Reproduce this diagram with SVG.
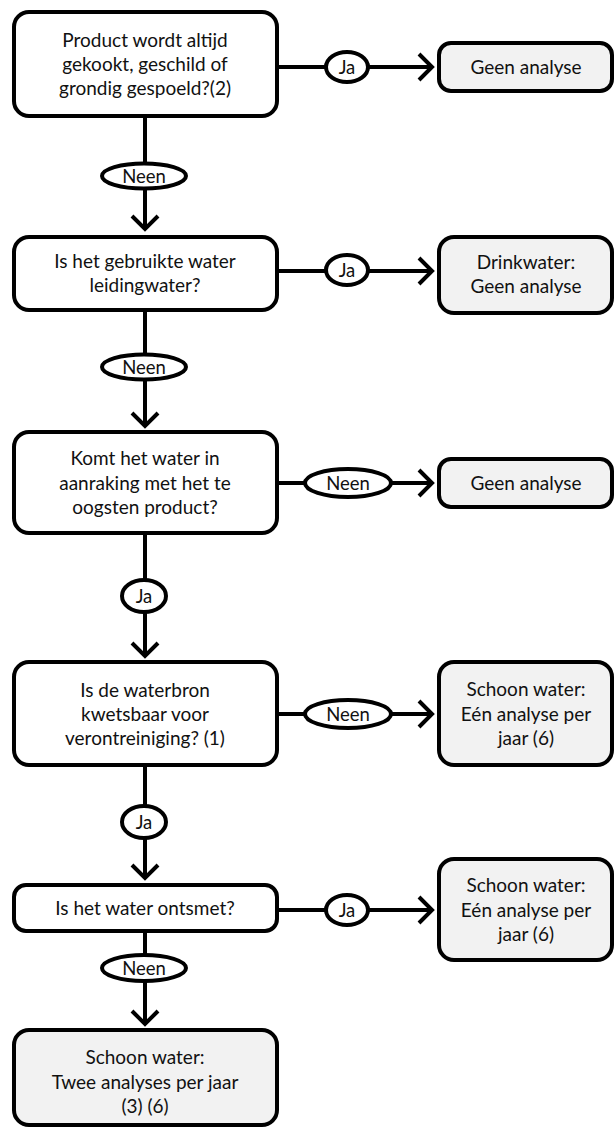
<svg xmlns="http://www.w3.org/2000/svg" width="614" height="1128" viewBox="0 0 614 1128">
<style>
.box{fill:#fff;stroke:#000;stroke-width:4}
.res{fill:#f2f2f2;stroke:#000;stroke-width:4}
.t{font-family:Lato,"Liberation Sans",sans-serif;font-size:19px;fill:#111;text-anchor:middle}
.lbl{font-family:Lato,"Liberation Sans",sans-serif;font-size:18.5px;fill:#111;text-anchor:middle}
.c{stroke:#000;stroke-width:4;fill:none}
.el{fill:#fff;stroke:#000;stroke-width:4}
</style>
<defs>
<marker id="arr" markerUnits="userSpaceOnUse" markerWidth="30" markerHeight="32" viewBox="-18 -16 22 32" refX="0" refY="0" orient="auto">
<path d="M-13,-13 L0,0 L-13,13" fill="none" stroke="#000" stroke-width="4"/>
</marker>
</defs>
<g id="connectors">
<line class="c" x1="279" y1="67" x2="432" y2="67" marker-end="url(#arr)"/>
<line class="c" x1="145" y1="118" x2="145" y2="229" marker-end="url(#arr)"/>
<line class="c" x1="279" y1="271" x2="432" y2="271" marker-end="url(#arr)"/>
<line class="c" x1="145" y1="312" x2="145" y2="426" marker-end="url(#arr)"/>
<line class="c" x1="279" y1="483" x2="432" y2="483" marker-end="url(#arr)"/>
<line class="c" x1="145" y1="535" x2="145" y2="656" marker-end="url(#arr)"/>
<line class="c" x1="279" y1="714" x2="432" y2="714" marker-end="url(#arr)"/>
<line class="c" x1="145" y1="767" x2="145" y2="878" marker-end="url(#arr)"/>
<line class="c" x1="279" y1="910" x2="432" y2="910" marker-end="url(#arr)"/>
<line class="c" x1="145" y1="933" x2="145" y2="1024" marker-end="url(#arr)"/>
<g id="lbl1"><ellipse class="el" cx="347" cy="67" rx="21" ry="15"/><text class="lbl" x="347" y="73.5">Ja</text></g>
<g id="lbl2"><ellipse class="el" cx="144" cy="176" rx="42" ry="12.5"/><text class="lbl" x="144" y="182.5">Neen</text></g>
<g id="lbl3"><ellipse class="el" cx="347" cy="270" rx="21" ry="15"/><text class="lbl" x="347" y="276.5">Ja</text></g>
<g id="lbl4"><ellipse class="el" cx="144" cy="367" rx="42" ry="12.5"/><text class="lbl" x="144" y="373.5">Neen</text></g>
<g id="lbl5"><ellipse class="el" cx="348" cy="483" rx="43" ry="14"/><text class="lbl" x="348" y="489.5">Neen</text></g>
<g id="lbl6"><ellipse class="el" cx="144" cy="596" rx="22" ry="16"/><text class="lbl" x="144" y="602.5">Ja</text></g>
<g id="lbl7"><ellipse class="el" cx="348" cy="714" rx="43" ry="14"/><text class="lbl" x="348" y="720.5">Neen</text></g>
<g id="lbl8"><ellipse class="el" cx="144" cy="822" rx="22" ry="16"/><text class="lbl" x="144" y="828.5">Ja</text></g>
<g id="lbl9"><ellipse class="el" cx="347" cy="910" rx="21" ry="15"/><text class="lbl" x="347" y="916.5">Ja</text></g>
<g id="lbl10"><ellipse class="el" cx="144" cy="968" rx="42" ry="13"/><text class="lbl" x="144" y="974.5">Neen</text></g>
</g>
<g id="q1"><rect class="box" x="14" y="12" width="263" height="104" rx="15"/>
<text class="t" x="145" y="47">Product wordt altijd</text><text class="t" x="145" y="71">gekookt, geschild of</text><text class="t" x="145" y="95">grondig gespoeld?(2)</text></g>
<g id="r1"><rect class="res" x="439" y="43" width="173" height="48" rx="12"/>
<text class="t" x="526" y="74">Geen analyse</text></g>
<g id="q2"><rect class="box" x="14" y="237" width="263" height="73" rx="15"/>
<text class="t" x="145" y="268">Is het gebruikte water</text><text class="t" x="145" y="292">leidingwater?</text></g>
<g id="r2"><rect class="res" x="439" y="237" width="173" height="76" rx="15"/>
<text class="t" x="526" y="269">Drinkwater:</text><text class="t" x="526" y="293">Geen analyse</text></g>
<g id="q3"><rect class="box" x="14" y="432" width="263" height="101" rx="15"/>
<text class="t" x="145" y="465">Komt het water in</text><text class="t" x="145" y="490">aanraking met het te</text><text class="t" x="145" y="514">oogsten product?</text></g>
<g id="r3"><rect class="res" x="439" y="459" width="173" height="48" rx="12"/>
<text class="t" x="526" y="490">Geen analyse</text></g>
<g id="q4"><rect class="box" x="14" y="662" width="263" height="103" rx="15"/>
<text class="t" x="145" y="697">Is de waterbron</text><text class="t" x="145" y="721">kwetsbaar voor</text><text class="t" x="145" y="745">verontreiniging? (1)</text></g>
<g id="r4"><rect class="res" x="439" y="662" width="173" height="103" rx="15"/>
<text class="t" x="526" y="696">Schoon water:</text><text class="t" x="526" y="721">Eén analyse per</text><text class="t" x="526" y="745">jaar (6)</text></g>
<g id="q5"><rect class="box" x="14" y="885" width="263" height="46" rx="12"/>
<text class="t" x="145" y="915">Is het water ontsmet?</text></g>
<g id="r5"><rect class="res" x="439" y="859" width="173" height="101" rx="15"/>
<text class="t" x="526" y="892">Schoon water:</text><text class="t" x="526" y="917">Eén analyse per</text><text class="t" x="526" y="941">jaar (6)</text></g>
<g id="r6"><rect class="res" x="14" y="1030" width="263" height="95" rx="15"/>
<text class="t" x="145" y="1064">Schoon water:</text><text class="t" x="145" y="1089">Twee analyses per jaar</text><text class="t" x="145" y="1113">(3) (6)</text></g>
</svg>
